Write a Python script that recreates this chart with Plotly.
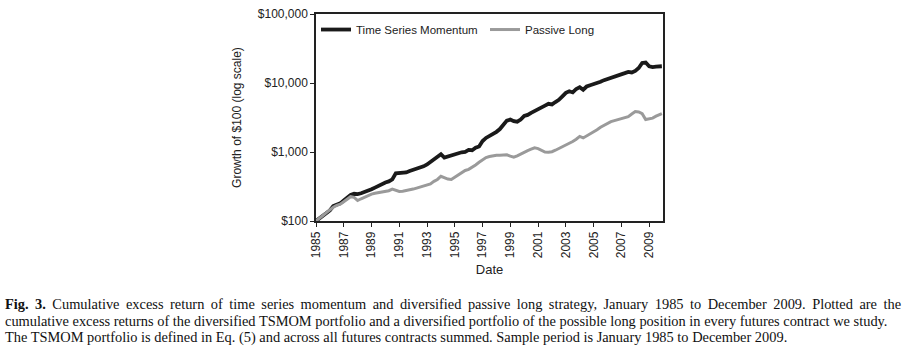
import pandas as pd
import plotly.graph_objects as go

# Quarterly observation dates (Jan 1985 .. Oct 2009) plus final Dec 2009
dates = list(pd.date_range("1985-01-01", periods=100, freq="QS").strftime("%Y-%m-%d")) + ["2009-12-01"]

tsmom = [
    100, 108, 118, 130,   142, 165, 172, 180,   198, 215, 238, 248,
    245, 252, 262, 272,   288, 305, 325, 345,   362, 375, 400, 490,
    495, 490, 505, 530,   550, 560, 590, 620,   660, 720, 780, 830,
    930, 830, 860, 900,   940, 960, 990, 1000,  1070, 1060, 1150, 1200,
    1440, 1600, 1700, 1800, 1960, 2150, 2450, 2850, 2950, 2800, 2750, 2950,
    3330, 3450, 3700, 3900, 4200, 4400, 4700, 5000, 4900, 5300, 5700, 6400,
    7200, 7600, 7300, 8200, 8700, 8000, 8900, 9300, 9600, 9900, 10400, 11000,
    11400, 11700, 12300, 12600, 13100, 13900, 14500, 14200, 15000, 16500, 19500, 19800,
    17500, 17000, 17300, 17200, 17500,
]

passive = [
    100, 108, 120, 132,   145, 158, 168, 175,   190, 205, 225, 220,
    198, 210, 222, 230,   245, 252, 258, 262,   270, 275, 290, 280,
    268, 270, 275, 282,   290, 300, 310, 315,   330, 345, 375, 400,
    445, 420, 405, 400,   430, 470, 510, 540,   560, 600, 650, 710,
    770, 830, 860, 885,   900, 900, 905, 910,   870, 840, 880, 940,
    1000, 1050, 1100, 1150, 1120, 1050, 1000, 990, 1010, 1060, 1120, 1200,
    1280, 1350, 1420, 1530, 1680, 1600, 1700, 1850, 1950, 2100, 2280, 2450,
    2600, 2750, 2850, 2950, 3050, 3150, 3250, 3550, 3850, 3800, 3600, 2950,
    3000, 3100, 3300, 3450, 3600,
]

ytick_vals = [100, 1000, 10000, 100000]
ytick_text = ["$100", "$1,000", "$10,000", "$100,000"]

caption_lines = [
    "<b>Fig. 3.</b> Cumulative excess return of time series momentum and diversified passive long strategy, January 1985 to December 2009. Plotted are the",
    "cumulative excess returns of the diversified TSMOM portfolio and a diversified portfolio of the possible long position in every futures contract we study.",
    "The TSMOM portfolio is defined in Eq. (5) and across all futures contracts summed. Sample period is January 1985 to December 2009.",
]

W, H = 903, 350
L, R, T, B = 316, 663, 14, 221

fig = go.Figure()
fig.add_trace(go.Scatter(x=dates, y=tsmom, mode="lines", name="Time Series Momentum",
                         line=dict(color="#1a1a1a", width=3.8), legend="legend"))
fig.add_trace(go.Scatter(x=dates, y=passive, mode="lines", name="Passive Long",
                         line=dict(color="#9a9a9a", width=3), legend="legend2"))

leg_common = dict(orientation="h", yanchor="top", xanchor="left", y=0.995,
                  bgcolor="rgba(0,0,0,0)", font=dict(size=11.5, color="#222"), itemwidth=30)

fig.update_layout(
    width=W, height=H,
    margin=dict(l=L, r=W - R, t=T, b=H - B, autoexpand=False),
    paper_bgcolor="white", plot_bgcolor="white",
    font=dict(family="Liberation Sans, Arial, sans-serif", size=12, color="#222"),
    showlegend=True,
    legend=dict(x=0.0, **leg_common),
    legend2=dict(x=(491 - 6 - L) / (R - L), **leg_common),
    xaxis=dict(type="date", range=["1985-01-01", "2009-12-31"],
               tick0="1985-01-01", dtick="M24", tickformat="%Y", tickangle=-90,
               ticks="outside", ticklen=4, tickcolor="#222",
               showline=True, linecolor="#222", linewidth=1.5, mirror=True,
               showgrid=False, zeroline=False,
               title=dict(text="Date", font=dict(size=13), standoff=8)),
    yaxis=dict(type="log", range=[2, 5], tickvals=ytick_vals, ticktext=ytick_text,
               ticks="outside", ticklen=4, tickcolor="#222",
               showline=True, linecolor="#222", linewidth=1.5, mirror=True,
               showgrid=False, zeroline=False,
               title=dict(text="Growth of $100 (log scale)", font=dict(size=12), standoff=14)),
)

cap_font = dict(family="Liberation Serif, Times New Roman, serif", size=14.4, color="#111")
for i, line in enumerate(caption_lines):
    if i == 0:
        # widen word gaps slightly to mimic the justified first line
        line = line.replace(" ", "\u2009 ")
    yc = (B - (304 + 17 * i)) / (B - T)
    fig.add_annotation(text=line, xref="paper", yref="paper",
                       x=(3 - L) / (R - L), y=yc, xanchor="left", yanchor="middle",
                       showarrow=False, font=cap_font)

fig.write_html("out.html")
